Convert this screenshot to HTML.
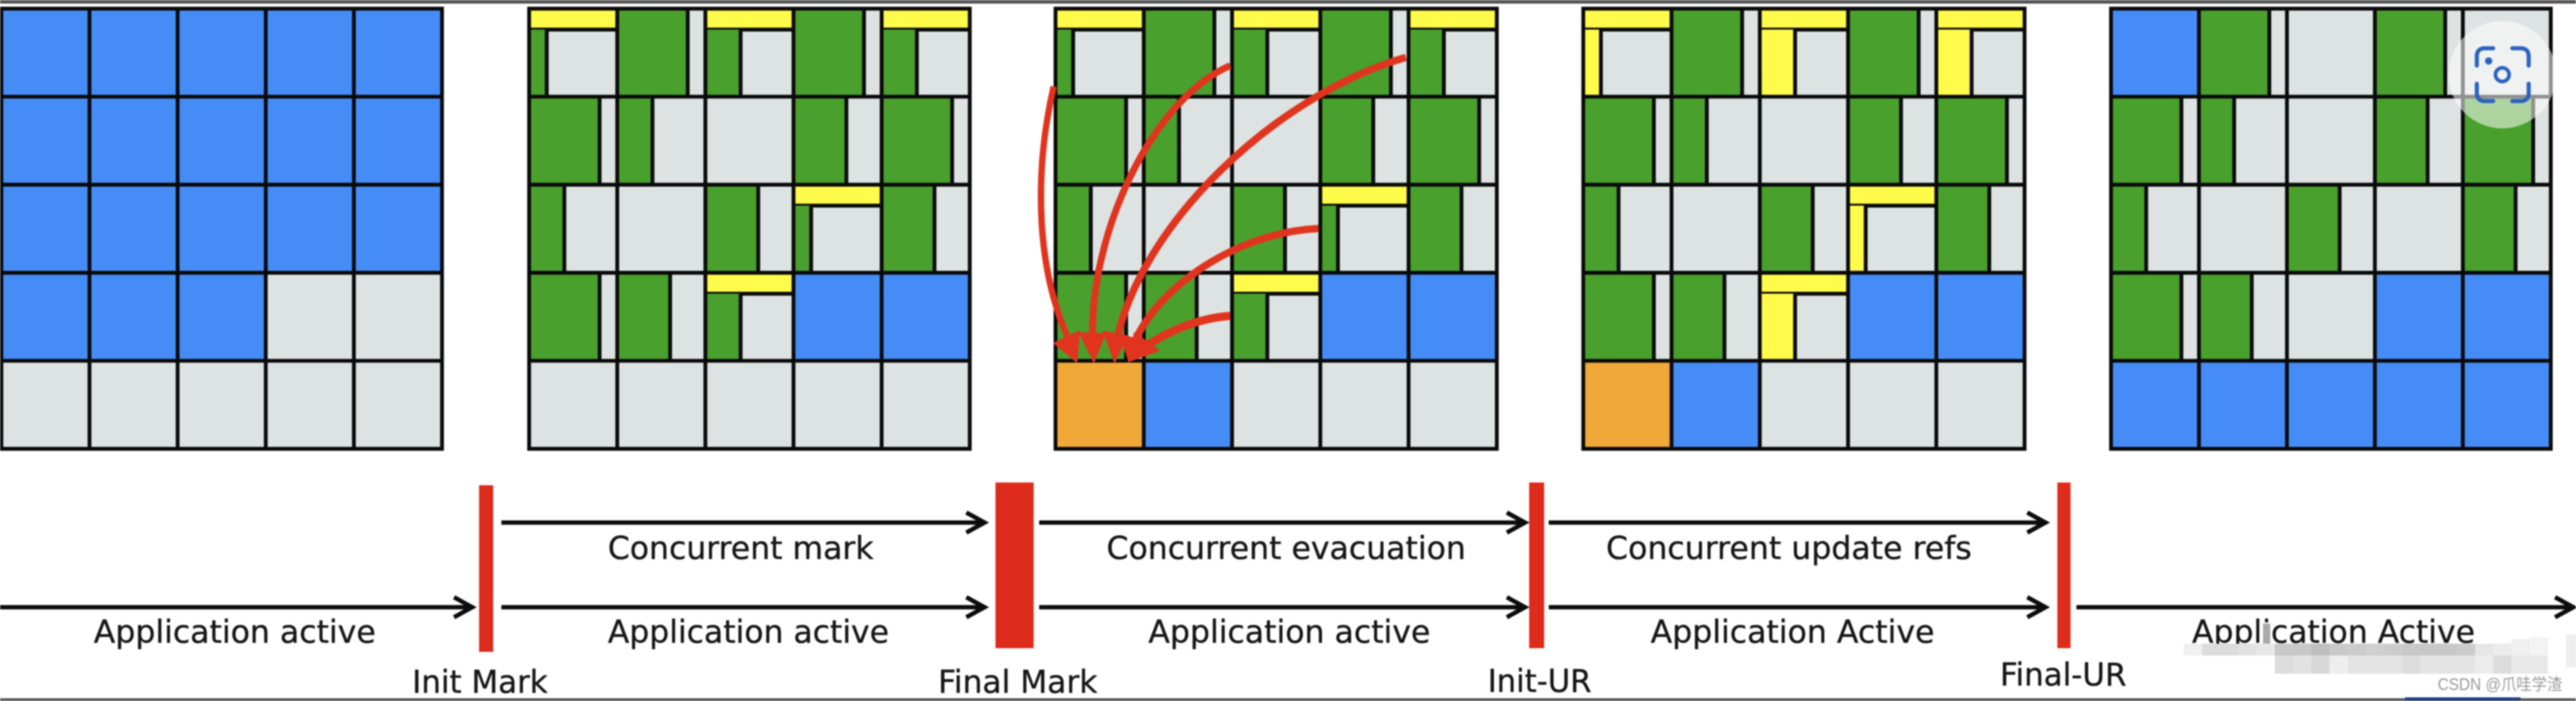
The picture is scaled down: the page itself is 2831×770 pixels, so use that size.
<!DOCTYPE html>
<html lang="zh">
<head>
<meta charset="utf-8">
<title>Concurrent collection phases</title>
<style>
html,body{margin:0;padding:0;background:#fff;width:2831px;height:770px;overflow:hidden}
svg{display:block;position:absolute;left:0;top:0;filter:blur(.8px)}
.gy{fill:#dde3e2}.gr{fill:#4aa02c}.bl{fill:#468cf7}.ye{fill:#fffb4b}.or{fill:#f0a938}
.ln{fill:none;stroke:#0a0a0a;stroke-width:4.2}
.tx{font-family:"DejaVu Sans","Liberation Sans",sans-serif;font-size:35px;fill:#161616;stroke:#161616;stroke-width:.35}
.ar{fill:none;stroke:#0c0c0c;stroke-width:4.8}
.rd{fill:none;stroke:#e0341f}
.rf{fill:#e0341f;stroke:#e0341f;stroke-width:2;stroke-linejoin:round}
.bar{fill:#dd2c1c}
</style>
</head>
<body>
<svg width="2831" height="770" viewBox="0 0 2831 770" xmlns="http://www.w3.org/2000/svg">
<defs>
  <g id="g1"><rect class="gr" width="19.4" height="96.7"/><path class="ln" d="M19.4 0V96.7"/></g>
  <g id="g2"><rect class="gr" width="38.8" height="96.7"/><path class="ln" d="M38.8 0V96.7"/></g>
  <g id="g3"><rect class="gr" width="58.2" height="96.7"/><path class="ln" d="M58.2 0V96.7"/></g>
  <g id="g4"><rect class="gr" width="77.6" height="96.7"/><path class="ln" d="M77.6 0V96.7"/></g>
  <g id="st"><rect class="ye" width="97" height="23"/><path class="ln" d="M0 23H97"/></g>
  <g id="t1"><use href="#st"/><rect class="gr" y="23" width="19.4" height="73.7"/><path class="ln" d="M19.4 23V96.7"/></g>
  <g id="t2"><use href="#st"/><rect class="gr" y="23" width="38.8" height="73.7"/><path class="ln" d="M38.8 23V96.7"/></g>
  <g id="u1"><use href="#st"/><rect class="ye" y="23" width="19.4" height="73.7"/><path class="ln" d="M19.4 23V96.7"/></g>
  <g id="u2"><use href="#st"/><rect class="ye" y="23" width="38.8" height="73.7"/><path class="ln" d="M38.8 23V96.7"/></g>
  <rect id="B" class="bl" width="97" height="96.7"/>
  <rect id="O" class="or" width="97" height="96.7"/>
  <rect id="base" class="gy" width="485" height="483.5"/>
  <path id="lines" class="ln" d="M0 0H485V483.5H0ZM97 0V483.5M194 0V483.5M291 0V483.5M388 0V483.5M0 96.7H485M0 193.4H485M0 290.1H485M0 386.8H485"/>
  <g id="mid">
    <use href="#g4" x="97"/><use href="#g4" x="291"/>
    <use href="#g4" y="96.7"/><use href="#g2" x="97" y="96.7"/><use href="#g3" x="291" y="96.7"/><use href="#g4" x="388" y="96.7"/>
    <use href="#g2" y="193.4"/><use href="#g3" x="194" y="193.4"/><use href="#g3" x="388" y="193.4"/>
    <use href="#g4" y="290.1"/><use href="#g3" x="97" y="290.1"/><use href="#B" x="291" y="290.1"/><use href="#B" x="388" y="290.1"/>
  </g>
  <g id="fresh">
    <use href="#t1"/><use href="#t2" x="194"/><use href="#t2" x="388"/>
    <use href="#t1" x="291" y="193.4"/><use href="#t2" x="194" y="290.1"/>
  </g>
</defs>

<!-- top and bottom chrome -->
<rect x="0" y="0" width="2831" height="4" fill="#555"/>
<rect x="0" y="767" width="2831" height="3" fill="#555"/>
<rect x="2643" y="766" width="127" height="4" fill="#20407e"/>

<!-- grid 1 -->
<g transform="translate(1.5,9.5) scale(.9985,1)">
  <use href="#base"/>
  <rect class="bl" width="485" height="290.1"/>
  <rect class="bl" y="290.1" width="291" height="96.7"/>
  <use href="#lines"/>
</g>

<!-- grid 2 -->
<g transform="translate(581.5,9.5) scale(.9985,1)">
  <use href="#base"/><use href="#mid"/><use href="#fresh"/><use href="#lines"/>
</g>

<!-- grid 3 -->
<g transform="translate(1160,9.5)">
  <use href="#base"/><use href="#mid"/><use href="#fresh"/>
  <use href="#O" y="386.8"/><use href="#B" x="97" y="386.8"/>
  <use href="#lines"/>
</g>

<!-- grid 4 -->
<g transform="translate(1740,9.5)">
  <use href="#base"/><use href="#mid"/>
  <use href="#u1"/><use href="#u2" x="194"/><use href="#u2" x="388"/>
  <use href="#u1" x="291" y="193.4"/><use href="#u2" x="194" y="290.1"/>
  <use href="#O" y="386.8"/><use href="#B" x="97" y="386.8"/>
  <use href="#lines"/>
</g>

<!-- grid 5 -->
<g transform="translate(2320,9.5) scale(.9965,1)">
  <use href="#base"/>
  <use href="#B"/><use href="#g4" x="97"/><use href="#g4" x="291"/>
  <use href="#g4" y="96.7"/><use href="#g2" x="97" y="96.7"/><use href="#g3" x="291" y="96.7"/><use href="#g4" x="388" y="96.7"/>
  <use href="#g2" y="193.4"/><use href="#g3" x="194" y="193.4"/><use href="#g3" x="388" y="193.4"/>
  <use href="#g4" y="290.1"/><use href="#g3" x="97" y="290.1"/><use href="#B" x="291" y="290.1"/><use href="#B" x="388" y="290.1"/>
  <rect class="bl" y="386.8" width="485" height="96.7"/>
  <use href="#lines"/>
</g>

<!-- red evacuation arrows -->
<g stroke-linecap="butt">
  <path class="rd" stroke-width="7" d="M1158 95C1136 190 1138 300 1178 380"/>
  <path class="rd" stroke-width="7.5" d="M1352 72C1265 110 1195 260 1201 380"/>
  <path class="rd" stroke-width="8" d="M1545 63C1400 105 1250 250 1226 380"/>
  <path class="rd" stroke-width="8" d="M1449 251C1360 255 1270 315 1244 382"/>
  <path class="rd" stroke-width="9" d="M1352 347C1312 350 1280 366 1252 385"/>
  <polygon class="rf" points="1159,377 1186,364 1183,397"/>
  <polygon class="rf" points="1187,366 1214,367 1202,397"/>
  <polygon class="rf" points="1213,364 1238,370 1225,397"/>
  <polygon class="rf" points="1231,367 1257,376 1241,397"/>
  <polygon class="rf" points="1247,366 1273,385 1242,396"/>
</g>

<!-- pause bars -->
<rect class="bar" x="526.5" y="533" width="15.5" height="183"/>
<rect class="bar" x="1094" y="530" width="42" height="182"/>
<rect class="bar" x="1680.5" y="530" width="16.5" height="182"/>
<rect class="bar" x="2261" y="530" width="14.5" height="182"/>

<!-- timeline arrows -->
<g class="ar">
  <path d="M0 667H517M499 656L519 667L499 678"/>
  <path d="M551 574H1080M1062 563L1082 574L1062 585"/>
  <path d="M551 667H1080M1062 656L1082 667L1062 678"/>
  <path d="M1142 574H1674M1656 563L1676 574L1656 585"/>
  <path d="M1142 667H1674M1656 656L1676 667L1656 678"/>
  <path d="M1702 574H2246M2228 563L2248 574L2228 585"/>
  <path d="M1702 667H2246M2228 656L2248 667L2228 678"/>
  <path d="M2282 667H2826M2808 656L2828 667L2808 678"/>
</g>

<!-- labels -->
<text class="tx" x="103" y="706" textLength="310" lengthAdjust="spacingAndGlyphs">Application active</text>
<text class="tx" x="668" y="614" textLength="292" lengthAdjust="spacingAndGlyphs">Concurrent mark</text>
<text class="tx" x="668" y="706" textLength="309" lengthAdjust="spacingAndGlyphs">Application active</text>
<text class="tx" x="1216" y="614" textLength="395" lengthAdjust="spacingAndGlyphs">Concurrent evacuation</text>
<text class="tx" x="1262" y="706" textLength="310" lengthAdjust="spacingAndGlyphs">Application active</text>
<text class="tx" x="1765" y="614" textLength="402" lengthAdjust="spacingAndGlyphs">Concurrent update refs</text>
<text class="tx" x="1814" y="706" textLength="312" lengthAdjust="spacingAndGlyphs">Application Active</text>
<text class="tx" x="2409" y="706" textLength="311" lengthAdjust="spacingAndGlyphs">Application Active</text>
<text class="tx" x="453" y="761" textLength="149" lengthAdjust="spacingAndGlyphs">Init Mark</text>
<text class="tx" x="1031" y="761" textLength="175" lengthAdjust="spacingAndGlyphs">Final Mark</text>
<text class="tx" x="1635" y="760" textLength="114" lengthAdjust="spacingAndGlyphs">Init-UR</text>
<text class="tx" x="2198" y="753" textLength="139" lengthAdjust="spacingAndGlyphs">Final-UR</text>

<!-- mosaic watermark -->
<g>
  <rect x="2487" y="685" width="8" height="22" fill="#aaa"/>
  <rect x="2400" y="707" width="20" height="13" fill="#f0f0f0"/>
  <rect x="2420" y="707" width="20" height="13" fill="#dcdcdc"/>
  <rect x="2440" y="707" width="20" height="13" fill="#dcdcdc"/>
  <rect x="2460" y="707" width="20" height="13" fill="#e2e2e2"/>
  <rect x="2480" y="707" width="20" height="13" fill="#e8e8e8"/>
  <rect x="2500" y="707" width="20" height="13" fill="#c8c8c8"/>
  <rect x="2520" y="707" width="20" height="13" fill="#c8c8c8"/>
  <rect x="2540" y="707" width="20" height="13" fill="#bfbfbf"/>
  <rect x="2560" y="707" width="20" height="13" fill="#c8c8c8"/>
  <rect x="2580" y="707" width="20" height="13" fill="#cccccc"/>
  <rect x="2600" y="707" width="20" height="13" fill="#d0d0d0"/>
  <rect x="2620" y="707" width="20" height="13" fill="#cccccc"/>
  <rect x="2640" y="707" width="20" height="13" fill="#c8c8c8"/>
  <rect x="2660" y="707" width="20" height="13" fill="#c8c8c8"/>
  <rect x="2680" y="707" width="20" height="13" fill="#c8c8c8"/>
  <rect x="2700" y="707" width="20" height="13" fill="#cccccc"/>
  <rect x="2720" y="707" width="20" height="13" fill="#e6e6e6"/>
  <rect x="2740" y="707" width="20" height="13" fill="#ececec"/>
  <rect x="2760" y="702" width="20" height="18" fill="#f0f0f0"/>
  <rect x="2780" y="700" width="20" height="20" fill="#f3f3f3"/>
  <rect x="2820" y="697" width="11" height="36" fill="#eeeeee"/>
  <rect x="2500" y="720" width="20" height="20" fill="#dcdcdc"/>
  <rect x="2520" y="720" width="20" height="20" fill="#e2e2e2"/>
  <rect x="2540" y="720" width="20" height="20" fill="#d8d8d8"/>
  <rect x="2560" y="720" width="20" height="20" fill="#eeeeee"/>
  <rect x="2580" y="720" width="20" height="20" fill="#e4e4e4"/>
  <rect x="2600" y="720" width="20" height="20" fill="#e4e4e4"/>
  <rect x="2620" y="720" width="20" height="20" fill="#e4e4e4"/>
  <rect x="2640" y="720" width="20" height="20" fill="#dcdcdc"/>
  <rect x="2660" y="720" width="20" height="20" fill="#e4e4e4"/>
  <rect x="2680" y="720" width="20" height="20" fill="#e4e4e4"/>
  <rect x="2700" y="720" width="20" height="20" fill="#e4e4e4"/>
  <rect x="2720" y="720" width="20" height="20" fill="#ececec"/>
  <rect x="2740" y="720" width="20" height="20" fill="#dcdcdc"/>
  <rect x="2760" y="720" width="20" height="20" fill="#e8e8e8"/>
  <rect x="2780" y="720" width="20" height="20" fill="#e8e8e8"/>
</g>
<text x="2679" y="758" font-size="18" fill="#9a9a9a" style="font-family:'Liberation Sans','Noto Sans CJK SC',sans-serif" textLength="137" lengthAdjust="spacingAndGlyphs">CSDN @爪哇学渣</text>

<!-- overlay scan button -->
<circle cx="2750" cy="82" r="59" fill="#fff" fill-opacity=".55"/>
<g fill="none" stroke="#2a62c0" stroke-width="4.5" stroke-linecap="round">
  <path d="M2722 72V62q0-9 9-9h9"/>
  <path d="M2761 53h9q9 0 9 9v10"/>
  <path d="M2779 92v10q0 9-9 9h-9"/>
  <path d="M2740 111h-9q-9 0-9-9V92"/>
  <circle cx="2750" cy="82" r="7.5" stroke-width="4"/>
</g>
<circle cx="2735" cy="67" r="4" fill="#2a62c0"/>
</svg>
</body>
</html>
